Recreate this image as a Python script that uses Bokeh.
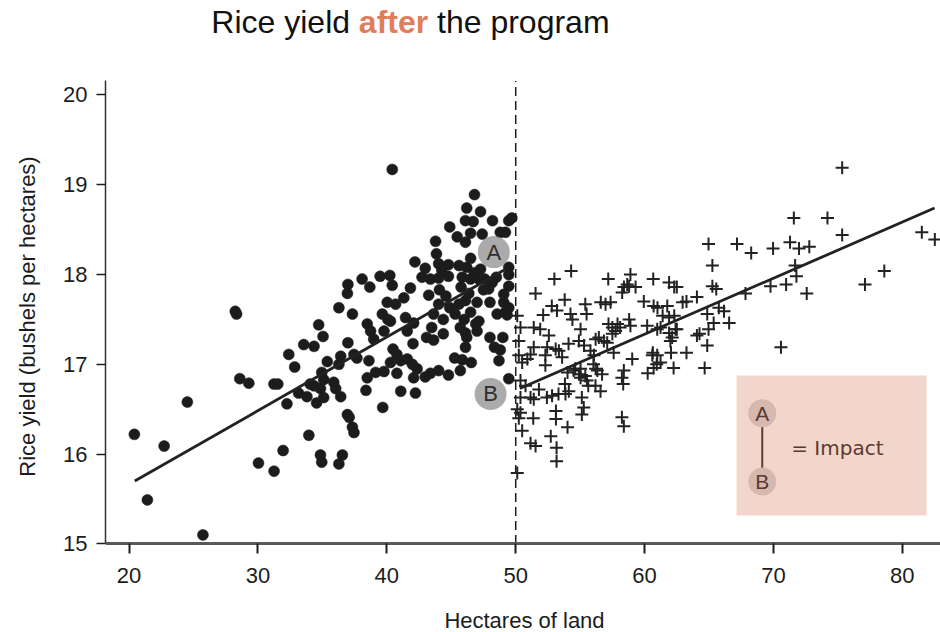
from bokeh.plotting import figure
from bokeh.models import Range1d, FixedTicker, Label, BoxAnnotation
from bokeh.core.properties import value
from bokeh.embed import file_html
from bokeh.resources import INLINE

# ---------------- data ----------------
x_ticks = [20, 30, 40, 50, 60, 70, 80]
y_ticks = [15, 16, 17, 18, 19, 20]
cutoff = 50
y_axis_top = 20.156

# farms below the cutoff (dots)
dots_x = [40.42, 46.80, 46.20, 47.27, 46.10, 46.70, 48.20, 49.46, 49.70, 44.88,
          45.46, 46.50, 46.10, 47.40, 48.80, 49.20, 43.78, 43.85, 46.50, 42.18,
          44.02, 44.78, 45.60, 47.27, 49.46, 42.98, 42.73, 43.38, 44.02, 44.78,
          45.85, 46.50, 47.14, 48.50, 49.46, 38.08, 38.68, 39.48, 40.23, 40.42,
          36.98, 36.94, 41.83, 41.32, 43.25, 44.08, 45.76, 46.36, 47.50, 48.17,
          49.07, 49.46, 40.03, 40.68, 36.28, 37.33, 39.65, 40.28, 41.45, 42.08,
          44.02, 44.88, 45.60, 47.00, 48.00, 49.07, 48.56, 49.33, 43.63, 44.38,
          45.30, 46.00, 46.90, 47.00, 38.48, 38.74, 39.78, 41.58, 44.38, 46.20,
          34.71, 35.05, 33.55, 34.35, 36.98, 38.98, 42.03, 43.63, 46.10, 48.00,
          48.35, 49.00, 48.80, 32.39, 32.85, 35.38, 36.42, 36.28, 37.45, 37.68,
          38.61, 40.48, 40.78, 40.28, 41.08, 41.58, 41.98, 42.35, 40.78, 42.08,
          42.98, 43.38, 44.02, 44.78, 45.26, 45.70, 45.85, 46.55, 48.70, 49.46,
          39.13, 39.78, 38.48, 34.95, 35.10, 34.05, 34.35, 34.85, 35.10, 35.88,
          36.03, 36.42, 33.15, 33.80, 32.25, 34.55, 38.38, 41.08, 42.22, 39.68,
          36.94, 37.08, 37.33, 37.45, 33.95, 31.95, 34.85, 34.95, 36.55, 36.28,
          30.04, 31.25, 20.41, 22.72, 24.52, 21.42, 25.73, 28.24, 28.34, 28.59,
          29.29, 31.24, 31.54,
          44.26, 46.20, 46.80, 47.60, 47.90, 44.58, 46.10, 49.46, 46.50, 47.14,
          49.20, 43.48, 45.70, 46.10, 43.08, 40.08]
dots_y = [19.17, 18.89, 18.74, 18.70, 18.60, 18.59, 18.60, 18.60, 18.63, 18.53,
          18.42, 18.46, 18.36, 18.45, 18.47, 18.47, 18.37, 18.23, 18.18, 18.14,
          18.12, 18.11, 18.10, 18.06, 18.08, 18.07, 17.97, 17.95, 17.96, 17.98,
          17.97, 17.95, 17.95, 17.97, 18.00, 17.95, 17.86, 17.98, 17.99, 17.88,
          17.89, 17.79, 17.85, 17.74, 17.77, 17.83, 17.86, 17.79, 17.83, 17.91,
          17.78, 17.87, 17.69, 17.67, 17.63, 17.56, 17.56, 17.48, 17.52, 17.46,
          17.67, 17.63, 17.67, 17.69, 17.69, 17.69, 17.56, 17.55, 17.56, 17.50,
          17.56, 17.50, 17.45, 17.37, 17.45, 17.37, 17.37, 17.37, 17.34, 17.30,
          17.44, 17.31, 17.22, 17.20, 17.24, 17.28, 17.23, 17.27, 17.19, 17.30,
          17.19, 17.30, 17.16, 17.11, 16.97, 17.03, 17.09, 17.00, 17.11, 17.07,
          17.04, 17.17, 17.11, 17.02, 17.04, 17.06, 17.00, 16.95, 16.90, 16.85,
          16.86, 16.90, 16.93, 16.88, 17.07, 16.93, 17.05, 17.02, 17.04, 16.84,
          16.91, 16.92, 16.85, 16.91, 16.83, 16.78, 16.76, 16.73, 16.63, 16.80,
          16.73, 16.64, 16.68, 16.64, 16.56, 16.57, 16.71, 16.70, 16.68, 16.52,
          16.44, 16.41, 16.30, 16.24, 16.21, 16.04, 15.99, 15.91, 15.99, 15.89,
          15.90, 15.81, 16.22, 16.09, 16.58, 15.49, 15.10, 17.59, 17.56, 16.84,
          16.79, 16.78, 16.78,
          18.05, 18.08, 18.02, 17.95, 17.84, 17.76, 17.71, 17.63, 17.58, 17.48,
          17.58, 17.41, 17.41, 17.35, 17.30, 17.50]

# farms above the cutoff (crosses)
cross_x = [75.33, 71.58, 74.19, 75.33, 81.51, 82.52, 64.96, 67.17, 68.27, 69.97,
           71.28, 71.98, 72.78, 65.26, 71.68, 71.78, 78.60, 77.10, 72.58, 69.77,
           70.98, 67.83, 65.26, 65.56, 70.58, 64.06, 63.25, 62.95, 65.76, 66.16,
           66.56, 64.86, 65.36, 64.96, 64.26, 64.06, 64.86, 64.66, 62.25, 63.25,
           62.05, 60.64, 60.94, 61.24, 60.24, 59.04, 58.39, 58.24, 58.34, 58.24,
           58.39, 56.58, 56.19, 56.03, 56.33, 55.03, 55.53, 55.63, 55.13, 55.28,
           55.13, 54.02, 54.62, 55.03, 54.12, 53.82, 53.32, 52.82, 52.42, 53.12,
           53.12, 52.72, 53.17, 53.17, 54.02, 51.36, 51.15, 51.54, 50.50,
           50.12, 50.24, 50.12, 50.37, 50.24, 50.24, 50.50, 50.37, 50.76, 50.37,
           51.15, 51.40, 50.12, 51.54, 53.00, 54.30, 52.80, 53.20, 53.80, 52.13,
           54.25, 54.40, 55.40, 55.50, 51.40, 51.90, 52.57, 52.44, 51.40, 51.15,
           50.90, 52.30, 52.30, 53.10, 53.35, 53.60, 54.10, 55.03, 54.90, 55.30,
           55.80, 56.20, 56.45, 56.84, 57.10, 57.60, 56.60, 56.97, 57.36, 57.18,
           58.90, 58.40, 58.80, 59.30, 58.26, 57.20, 57.50, 57.90, 58.10, 58.80,
           60.67, 61.90, 62.30, 59.94, 60.70, 61.00, 61.76, 60.20, 61.24, 61.40,
           61.90, 62.30, 62.40, 61.90, 62.00, 57.75, 57.50, 56.07, 58.65, 62.50,
           58.90, 60.98, 62.14, 62.50, 60.60, 60.98, 60.70, 54.50, 54.90, 55.40,
           56.20, 56.70, 51.80, 53.86, 50.37]
cross_y = [19.19, 18.63, 18.63, 18.44, 18.47, 18.39, 18.34, 18.34, 18.24, 18.29,
           18.36, 18.29, 18.31, 18.10, 18.10, 17.98, 18.04, 17.89, 17.79, 17.87,
           17.89, 17.79, 17.87, 17.84, 17.19, 17.75, 17.70, 17.69, 17.63, 17.59,
           17.46, 17.56, 17.46, 17.39, 17.34, 17.32, 17.21, 16.96, 16.96, 17.13,
           17.13, 17.13, 17.00, 17.02, 16.90, 17.06, 16.93, 16.85, 16.78, 16.41,
           16.31, 16.70, 16.76, 17.00, 16.93, 16.85, 16.82, 16.76, 16.63, 16.52,
           16.44, 16.91, 16.95, 16.95, 16.70, 16.78, 16.67, 16.65, 16.63, 16.48,
           16.39, 16.20, 16.07, 15.92, 16.30, 16.40, 16.12, 16.09, 16.26,
           16.50, 16.40, 17.54, 17.41, 17.26, 17.10, 17.02, 16.82, 16.76, 16.63,
           16.63, 16.61, 15.79, 17.79, 17.95, 18.04, 17.65, 17.60, 17.72, 17.55,
           17.56, 17.50, 17.67, 17.56, 17.41, 17.39, 17.32, 17.19, 17.19, 17.11,
           17.06, 17.10, 16.99, 17.17, 17.15, 17.08, 17.23, 17.39, 17.26, 17.21,
           17.15, 17.28, 17.30, 17.26, 17.24, 17.13, 17.69, 17.67, 17.69, 17.95,
           18.00, 17.86, 17.87, 17.86, 17.80, 17.45, 17.41, 17.45, 17.41, 17.50,
           17.95, 17.91, 17.86, 17.70, 17.65, 17.63, 17.65, 17.43, 17.41, 17.54,
           17.52, 17.54, 17.39, 17.35, 17.26, 17.37, 17.34, 17.10, 17.89, 17.86,
           17.43, 17.39, 17.30, 17.39, 17.10, 17.10, 16.96, 16.93, 16.89, 16.87,
           16.95, 16.89, 16.72, 16.67, 16.46]

# fitted lines on each side of the cutoff
fit_left_x = [20.44, 49.10]
fit_left_y = [15.70, 18.05]
fit_right_x = [50.32, 82.50]
fit_right_y = [16.73, 18.74]

# A / B markers at the cutoff
ab_x = [48.30, 48.05]
ab_y = [18.25, 16.67]
ab_text = ["A", "B"]

# ---------------- figure ----------------
FONT = "Liberation Sans"
INK = "#1c1c1c"

# frame covers the full height; the x axis sits at y = 15
p = figure(width=940, height=632, title=None,
           x_range=Range1d(18.17, 82.96), y_range=Range1d(14.013, 21.052),
           output_backend="svg", toolbar_location=None,
           min_border_left=105, min_border_right=0,
           min_border_top=0, min_border_bottom=0)
p.outline_line_color = None
p.grid.visible = False
p.background_fill_color = "white"
p.border_fill_color = "white"

# axes
p.xaxis.ticker = FixedTicker(ticks=x_ticks)
p.yaxis.ticker = FixedTicker(ticks=y_ticks)
for ax in (p.xaxis[0], p.yaxis[0]):
    ax.minor_tick_line_color = None
    ax.major_tick_in = 0
    ax.major_label_text_font = FONT
    ax.major_label_text_font_size = "22px"
    ax.major_label_text_color = INK
    ax.axis_label_text_font = FONT
    ax.axis_label_text_font_size = "22px"
    ax.axis_label_text_font_style = "normal"
    ax.axis_label_text_color = INK
    ax.major_tick_line_color = INK

p.xaxis.fixed_location = 15
p.xaxis.axis_line_color = "#5a5a5a"
p.xaxis.axis_line_width = 3
p.xaxis.major_tick_line_width = 2
p.xaxis.major_tick_out = 10
p.xaxis.major_label_standoff = 14

p.yaxis.bounds = (15, y_axis_top)
p.yaxis.axis_label = "Rice yield (bushels per hectares)"
p.yaxis.axis_line_color = "#333333"
p.yaxis.axis_line_width = 1.5
p.yaxis.major_tick_line_width = 1.5
p.yaxis.major_tick_out = 9
p.yaxis.major_label_standoff = 9
p.yaxis.axis_label_standoff = 20

p.add_layout(Label(x=50.68, y=14.147, text="Hectares of land", text_font=FONT,
                   text_font_size="22px", text_color=INK, text_align="center",
                   text_baseline="middle"))

# cutoff line
p.segment(x0=[cutoff], y0=[15], x1=[cutoff], y1=[y_axis_top], line_color=INK,
          line_width=1.5, line_dash="9 5")

# legend box (under glyphs)
box = BoxAnnotation(left=67.13, right=81.88, bottom=15.316, top=16.876,
                    fill_color="#F3D6CB", fill_alpha=1.0, line_color=None,
                    level="underlay")
p.add_layout(box)

# points
p.scatter(dots_x, dots_y, marker="circle", size=11, fill_color=INK,
          line_color=INK, line_width=0.5)
p.scatter(cross_x, cross_y, marker="cross", size=13, line_color="#222222",
          line_width=2)

# fitted lines
p.line(fit_left_x, fit_left_y, line_color="#222222", line_width=2.8)
p.line(fit_right_x, fit_right_y, line_color="#222222", line_width=2.8)

# A / B markers
p.scatter(ab_x, ab_y, marker="circle", size=32, fill_color="#8a8a8a",
          fill_alpha=0.72, line_color=None)
p.text(ab_x, ab_y, text=ab_text, text_font=value(FONT), text_font_size="22px",
       text_color="#2e2e2e", text_align="center", text_baseline="middle")

# legend contents
leg_x = [69.13, 69.13]
leg_y = [16.455, 15.694]
p.line([69.13, 69.13], [16.32, 15.84], line_color="#5E3B30", line_width=2)
p.scatter(leg_x, leg_y, marker="circle", size=28, fill_color="#D6B8AE",
          line_color=None)
p.text(leg_x, leg_y, text=["A", "B"], text_font=value(FONT),
       text_font_size="21px", text_color="#5A3A2F", text_align="center",
       text_baseline="middle")
p.add_layout(Label(x=71.38, y=16.07, text="= Impact", text_font="DejaVu Sans",
                   text_font_size="20px", text_color="#5A3A2F",
                   text_align="left", text_baseline="middle"))

# title (three parts)
TX, TY = 40.52, 20.81
p.add_layout(Label(x=TX, y=TY, text="after", text_font=FONT,
                   text_font_size="32px", text_font_style="bold",
                   text_color="#E07E5C", text_align="center",
                   text_baseline="alphabetic"))
p.add_layout(Label(x=TX, y=TY, x_offset=-43.5, text="Rice yield", text_font=FONT,
                   text_font_size="32px", text_color="#111111",
                   text_align="right", text_baseline="alphabetic"))
p.add_layout(Label(x=TX, y=TY, x_offset=43.5, text="the program", text_font=FONT,
                   text_font_size="32px", text_color="#111111",
                   text_align="left", text_baseline="alphabetic"))

open("out.html", "w").write(file_html(p, INLINE))
